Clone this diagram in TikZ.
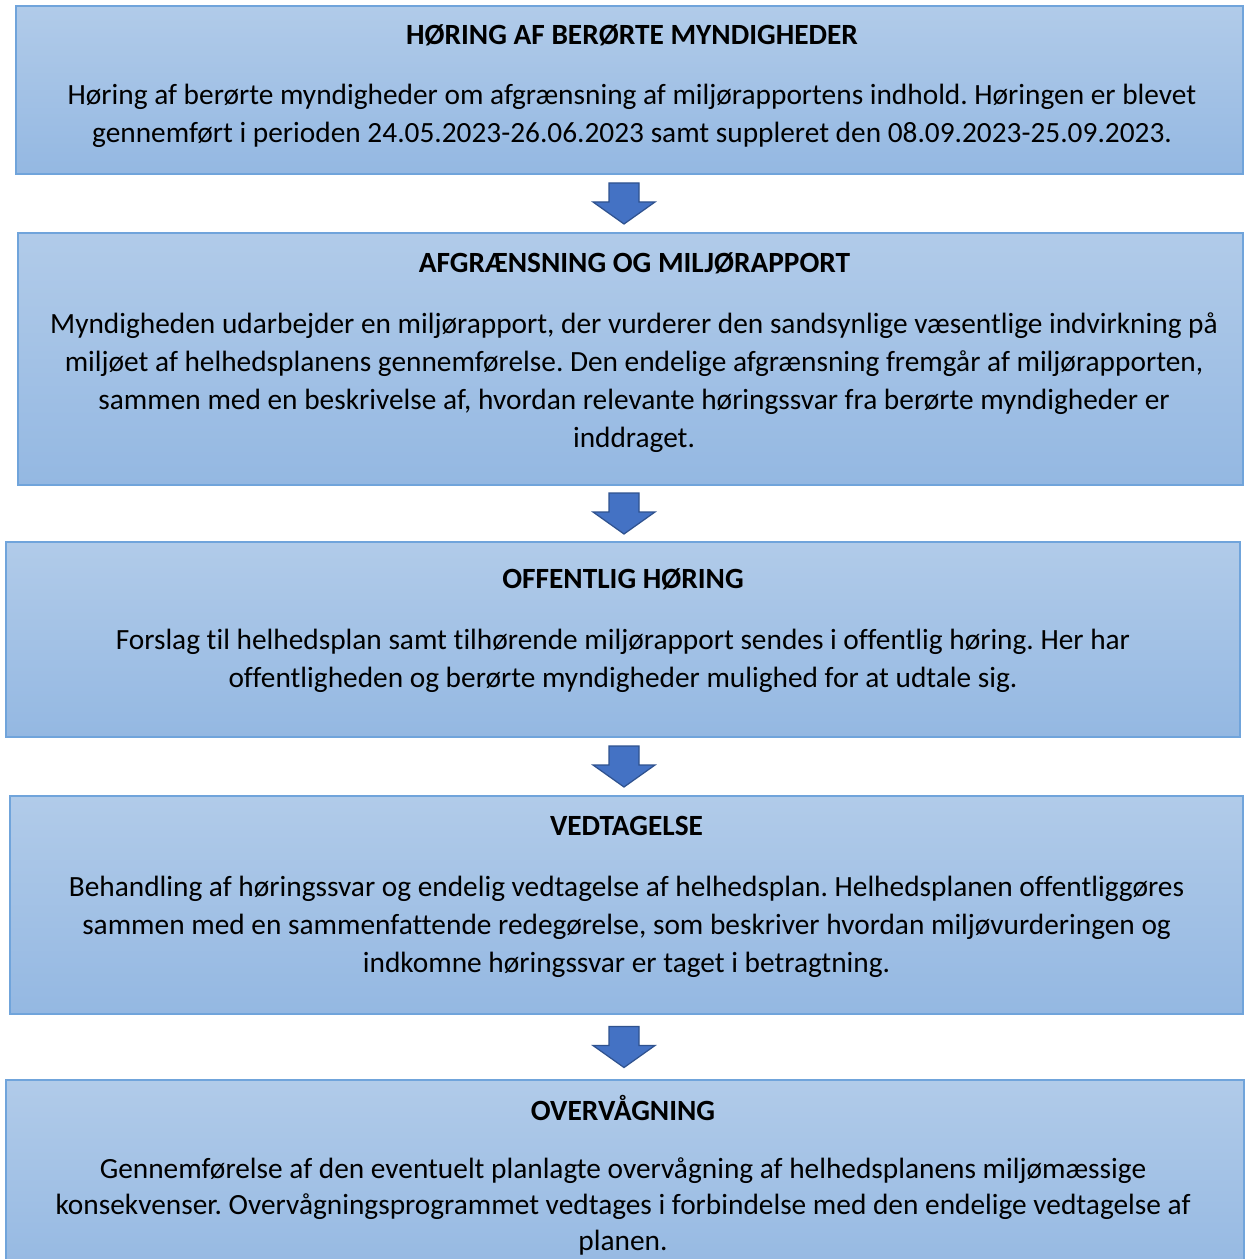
\documentclass[tikz,border=0pt]{standalone}
\usepackage{fontspec}
\setmainfont{Carlito}[Ligatures={NoCommon}]
\frenchspacing
\usetikzlibrary{calc}
\definecolor{boxtop}{HTML}{B1CBE9}
\definecolor{boxbot}{HTML}{94B8E2}
\definecolor{boxline}{HTML}{70A4DB}
\definecolor{arrfill}{HTML}{4472C4}
\definecolor{arrline}{HTML}{2F528F}
\tikzset{
  stepbox/.style={draw=boxline,line width=0.8pt,top color=boxtop,bottom color=boxbot,inner sep=0pt},
  steptitle/.style={font=\fontsize{16.7}{21.6}\selectfont\bfseries,inner sep=0pt},
  steptext/.style={font=\fontsize{16.7}{21.6}\selectfont,align=center,inner sep=0pt},
  downarrow/.pic={
    \draw[fill=arrfill,draw=arrline,line width=0.7pt,line join=miter]
      (-0.3,0.41) -- (0.3,0.41) -- (0.3,0.03) -- (0.62,0.03) -- (0,-0.41)
      -- (-0.62,0.03) -- (-0.3,0.03) -- cycle;
  }
}

\begin{document}
\begin{tikzpicture}
    \useasboundingbox (0,0) rectangle (24.88,-25.18);
    \fill[white] (0,0) rectangle (24.88,-25.18);

    \node[stepbox,minimum width=24.54cm,minimum height=3.36cm] (hoering) at (12.59,-1.80) {};
    \node[steptitle] (hoeringT) at (12.64,-0.70) {HØRING AF BERØRTE MYNDIGHEDER};
    \node[steptext] (hoeringB) at (12.64,-2.31) {Høring af berørte myndigheder om afgrænsning af miljørapportens indhold. Høringen er blevet\\
      gennemført i perioden 24.05.2023-26.06.2023 samt suppleret den 08.09.2023-25.09.2023.};

    \node[stepbox,minimum width=24.50cm,minimum height=5.04cm] (afgraens) at (12.61,-7.18) {};
    \node[steptitle] (afgraensT) at (12.69,-5.26) {AFGRÆNSNING OG MILJØRAPPORT};
    \node[steptext] (afgraensB) at (12.68,-7.65) {Myndigheden udarbejder en miljørapport, der vurderer den sandsynlige væsentlige indvirkning på\\
      miljøet af helhedsplanens gennemførelse. Den endelige afgrænsning fremgår af miljørapporten,\\
      sammen med en beskrivelse af, hvordan relevante høringssvar fra berørte myndigheder er\\
      inddraget.};

    \node[stepbox,minimum width=24.68cm,minimum height=3.90cm] (offentlig) at (12.46,-12.79) {};
    \node[steptitle] (offentligT) at (12.46,-11.58) {OFFENTLIG HØRING};
    \node[steptext] (offentligB) at (12.46,-13.22) {Forslag til helhedsplan samt tilhørende miljørapport sendes i offentlig høring. Her har\\
      offentligheden og berørte myndigheder mulighed for at udtale sig.};

    \node[stepbox,minimum width=24.66cm,minimum height=4.36cm] (vedtag) at (12.53,-18.10) {};
    \node[steptitle] (vedtagT) at (12.53,-16.52) {VEDTAGELSE};
    \node[steptext] (vedtagB) at (12.53,-18.54) {Behandling af høringssvar og endelig vedtagelse af helhedsplan. Helhedsplanen offentliggøres\\
      sammen med en sammenfattende redegørelse, som beskriver hvordan miljøvurderingen og\\
      indkomne høringssvar er taget i betragtning.};

    \node[stepbox,minimum width=24.76cm,minimum height=4.00cm] (overvaag) at (12.50,-23.60) {};
    \node[steptitle] (overvaagT) at (12.46,-22.16) {OVERVÅGNING};
    \node[steptext,font=\fontsize{16.7}{20.5}\selectfont] (overvaagB) at (12.46,-24.13) {Gennemførelse af den eventuelt planlagte overvågning af helhedsplanens miljømæssige\\
      konsekvenser. Overvågningsprogrammet vedtages i forbindelse med den endelige vedtagelse af\\
      planen.};

    \coordinate (ax) at (12.48,0);
    \path ($(ax |- hoering.south)!0.5!(ax |- afgraens.north)$) pic {downarrow};
    \path ($(ax |- afgraens.south)!0.5!(ax |- offentlig.north)$) pic {downarrow};
    \path ($(ax |- offentlig.south)!0.5!(ax |- vedtag.north)$) pic {downarrow};
    \path ($(ax |- vedtag.south)!0.5!(ax |- overvaag.north)$) pic {downarrow};
\end{tikzpicture}
\end{document}
